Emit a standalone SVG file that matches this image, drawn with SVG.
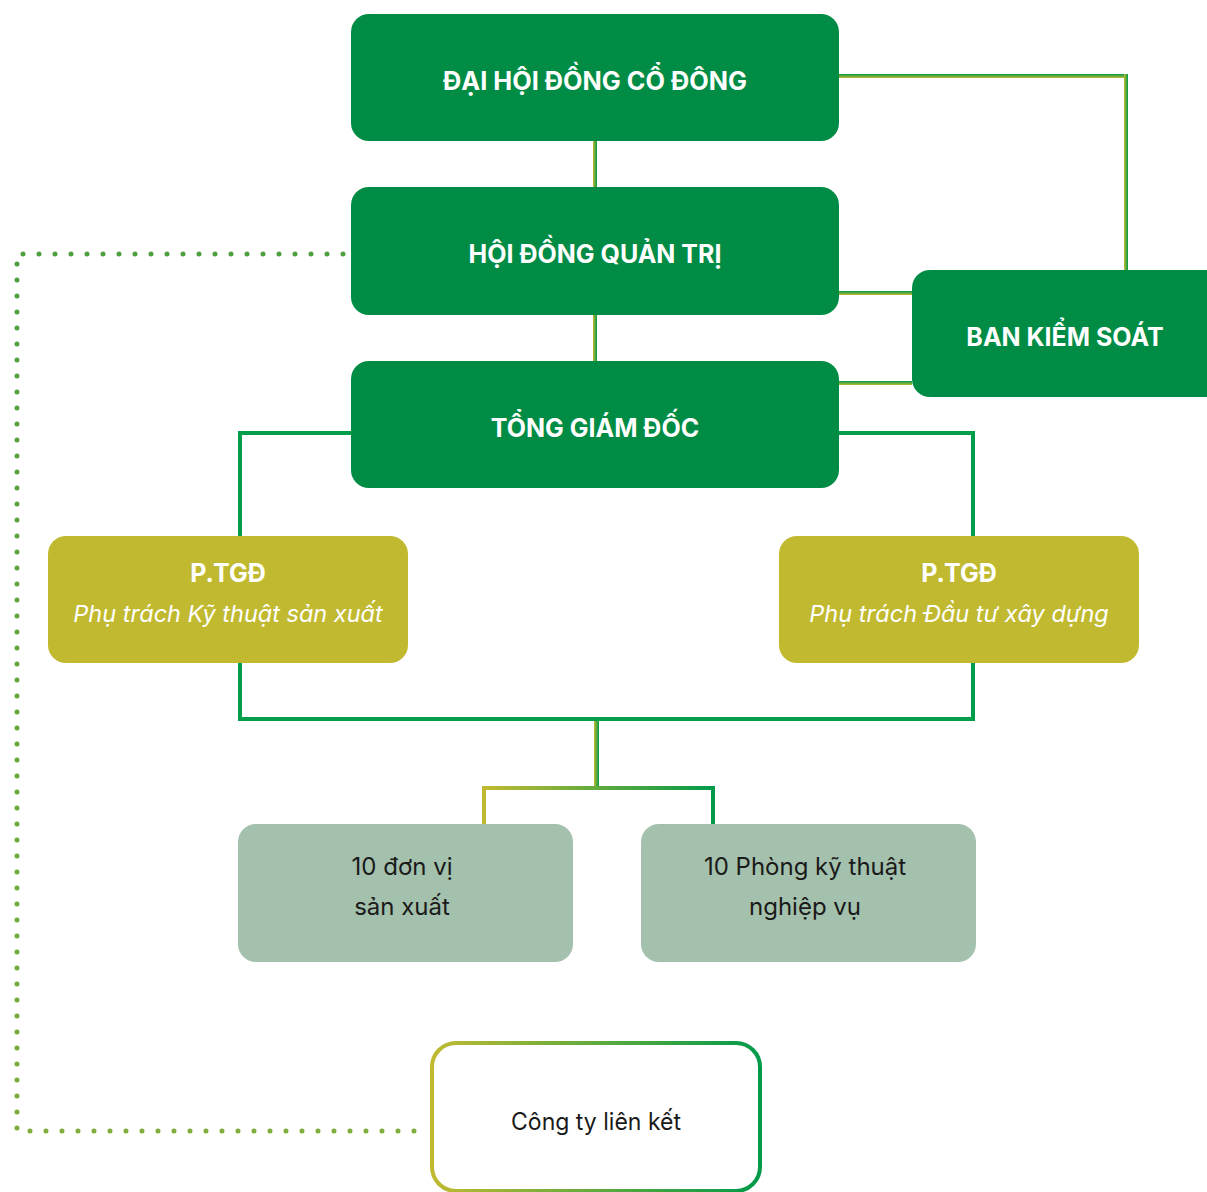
<svg xmlns="http://www.w3.org/2000/svg" width="1207" height="1192" viewBox="0 0 1207 1192">
<defs>
<style>
.dk{fill:#008C45}
.yl{fill:#C1BA31}
.gr{fill:#A4C1AD}
.tb{font-family:Inter,"Liberation Sans",sans-serif;font-weight:700;font-size:25px;fill:#fff;text-anchor:middle}
.ti{font-family:Inter,"Liberation Sans",sans-serif;font-style:italic;font-size:23.5px;fill:#fff;text-anchor:middle}
.tr{font-family:Inter,"Liberation Sans",sans-serif;font-size:24px;fill:#1a1a1a;text-anchor:middle}
.tree{fill:none;stroke:#009E4B;stroke-width:4}
</style>
<linearGradient id="gh" x1="0" y1="0" x2="1" y2="0"><stop offset="0" stop-color="#C1BA31"/><stop offset="1" stop-color="#009A4A"/></linearGradient>
<linearGradient id="gv" x1="0" y1="0" x2="0" y2="1"><stop offset="0" stop-color="#009A4A"/><stop offset="1" stop-color="#C1BA31"/></linearGradient>
<linearGradient id="gfork" gradientUnits="userSpaceOnUse" x1="482" y1="0" x2="715" y2="0"><stop offset="0" stop-color="#C1BA31"/><stop offset="1" stop-color="#009A4A"/></linearGradient>
<linearGradient id="gbox" gradientUnits="userSpaceOnUse" x1="430" y1="0" x2="762" y2="0"><stop offset="0" stop-color="#C1BA31"/><stop offset="1" stop-color="#009A4A"/></linearGradient>
<linearGradient id="gdot" gradientUnits="userSpaceOnUse" x1="0" y1="254" x2="0" y2="1131"><stop offset="0" stop-color="#4E9F3E"/><stop offset="1" stop-color="#7DAE3A"/></linearGradient>
</defs>

<g id="connectors">
  <rect x="593" y="141" width="4" height="46" fill="url(#gh)"/>
  <rect x="593" y="315" width="4" height="46" fill="url(#gh)"/>
  <rect x="839" y="74" width="289" height="4" fill="url(#gv)"/>
  <rect x="1124" y="74" width="4" height="196" fill="url(#gh)"/>
  <rect x="839" y="291" width="73" height="4" fill="url(#gv)"/>
  <rect x="839" y="381" width="73" height="4" fill="url(#gv)"/>
  <path class="tree" d="M351 433 H240 V536 M839 433 H973 V536 M240 663 V719 H973 V663"/>
  <rect x="594" y="721" width="5" height="66" fill="url(#gh)"/>
  <path d="M484 824 V788 H713 V824" fill="none" stroke="url(#gfork)" stroke-width="4"/>
  <path d="M343 254 H17 V1131 H422" fill="none" stroke="url(#gdot)" stroke-width="5" stroke-linecap="round" stroke-dasharray="0 16"/>
</g>

<g id="dhdcd">
  <rect class="dk" x="351" y="14" width="488" height="127" rx="18"/>
  <text class="tb" x="595" y="90" textLength="304" lengthAdjust="spacingAndGlyphs">ĐẠI HỘI ĐỒNG CỔ ĐÔNG</text>
</g>
<g id="hdqt">
  <rect class="dk" x="351" y="187" width="488" height="128" rx="18"/>
  <text class="tb" x="595" y="263">HỘI ĐỒNG QUẢN TRỊ</text>
</g>
<g id="tgd">
  <rect class="dk" x="351" y="361" width="488" height="127" rx="18"/>
  <text class="tb" x="595" y="437">TỔNG GIÁM ĐỐC</text>
</g>
<g id="bks">
  <rect class="dk" x="912" y="270" width="320" height="127" rx="18"/>
  <text class="tb" x="1065" y="346">BAN KIỂM SOÁT</text>
</g>
<g id="ptgd-left">
  <rect class="yl" x="48" y="536" width="360" height="127" rx="18"/>
  <text class="tb" x="228" y="582">P.TGĐ</text>
  <text class="ti" x="228" y="622">Phụ trách Kỹ thuật sản xuất</text>
</g>
<g id="ptgd-right">
  <rect class="yl" x="779" y="536" width="360" height="127" rx="18"/>
  <text class="tb" x="959" y="582">P.TGĐ</text>
  <text class="ti" x="959" y="622">Phụ trách Đầu tư xây dựng</text>
</g>
<g id="donvi">
  <rect class="gr" x="238" y="824" width="335" height="138" rx="18"/>
  <text class="tr" x="402" y="875">10 đơn vị</text>
  <text class="tr" x="402" y="915">sản xuất</text>
</g>
<g id="phong">
  <rect class="gr" x="641" y="824" width="335" height="138" rx="18"/>
  <text class="tr" x="805" y="875">10 Phòng kỹ thuật</text>
  <text class="tr" x="805" y="915">nghiệp vụ</text>
</g>
<g id="congty">
  <rect x="432" y="1043" width="328" height="148" rx="24" fill="#fff" stroke="url(#gbox)" stroke-width="4"/>
  <text class="tr" x="596" y="1130" textLength="170" lengthAdjust="spacingAndGlyphs">Công ty liên kết</text>
</g>
</svg>
